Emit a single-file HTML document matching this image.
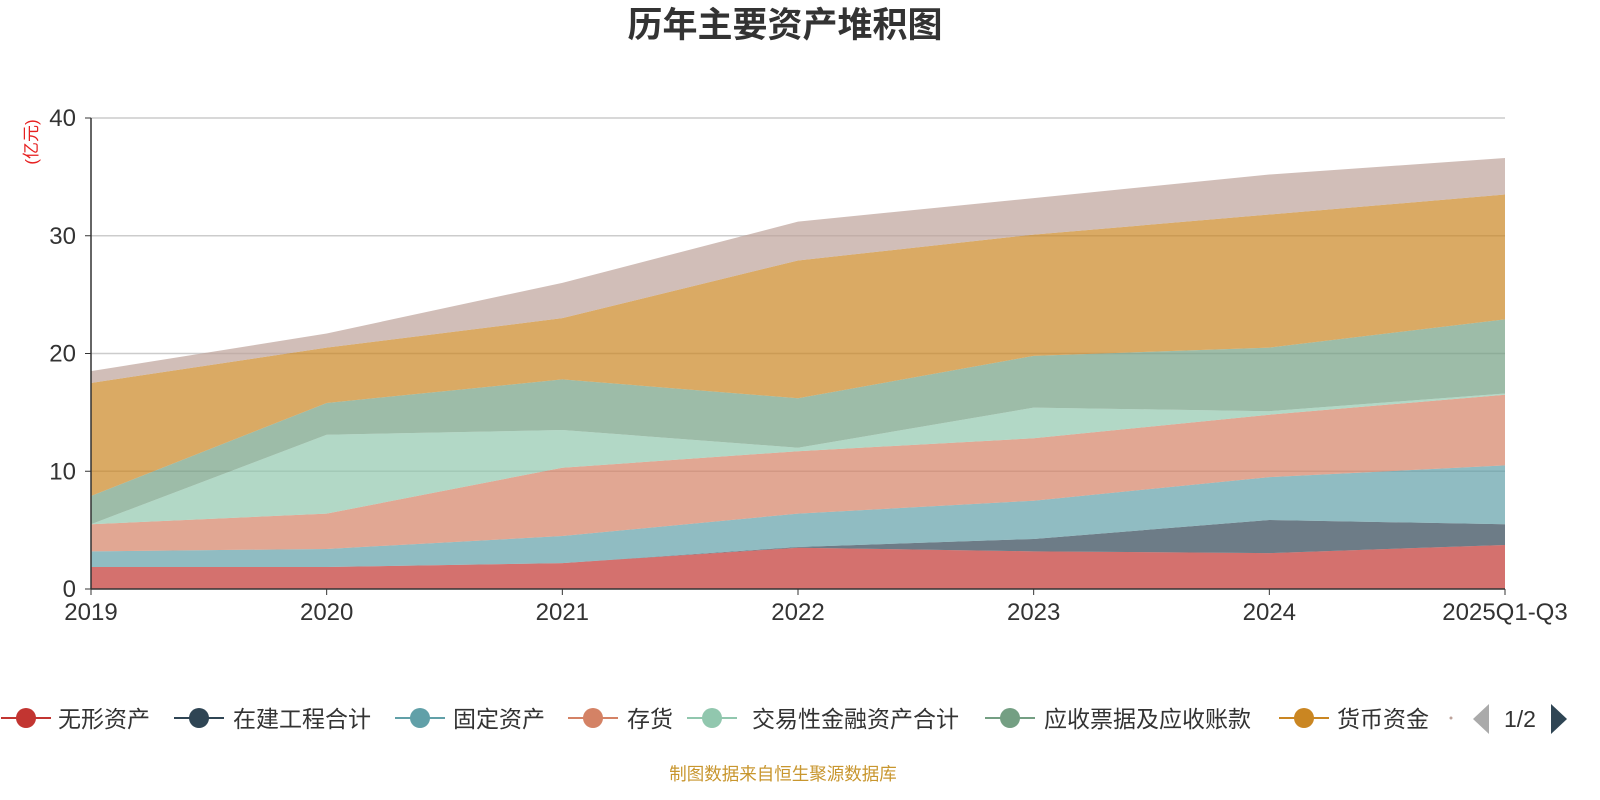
<!DOCTYPE html>
<html><head><meta charset="utf-8"><style>
body{margin:0;background:#fff;width:1600px;height:800px;overflow:hidden;font-family:"Liberation Sans","Noto Sans CJK SC",sans-serif;}
svg{display:block}
</style></head><body>
<svg id="chart" width="1600" height="800">
<text x="785" y="37" text-anchor="middle" font-size="35" font-weight="bold" fill="#333">历年主要资产堆积图</text>
<text transform="translate(37,142) rotate(-90)" text-anchor="middle" font-size="17" fill="#e62020">(亿元)</text>
<g id="grid"></g><g id="areas"></g><g id="axes"></g><g id="legend"></g>
<text x="783" y="780" text-anchor="middle" font-size="17.5" fill="#c8962e">制图数据来自恒生聚源数据库</text>
</svg>
<script>
const categories=["2019","2020","2021","2022","2023","2024","2025Q1-Q3"];
const yTicks=[0,10,20,30,40];
const seriesNames=["无形资产","在建工程合计","固定资产","存货","交易性金融资产合计","应收票据及应收账款","货币资金","其他"];
const wuxing=[1.87,1.87,2.2,3.5,3.2,3.05,3.74];
const zaijian=[0,0,0,0.07,1.05,2.81,1.76];
const guding=[1.33,1.53,2.3,2.83,3.25,3.64,5.0];
const cunhuo=[2.3,3.0,5.8,5.3,5.3,5.3,6.0];
const jiaoyi=[0,6.7,3.2,0.3,2.6,0.3,0.1];
const yingshou=[2.4,2.7,4.3,4.2,4.4,5.4,6.3];
const huobi=[9.6,4.7,5.2,11.7,10.3,11.3,10.6];
const qita=[1.0,1.2,3.0,3.3,3.1,3.4,3.1];
const seriesData=[wuxing,zaijian,guding,cunhuo,jiaoyi,yingshou,huobi,qita];
const colors=["#c23531","#2f4554","#61a0a8","#d48265","#91c7ae","#749f83","#ca8622","#bda29a"];
const NS="http://www.w3.org/2000/svg";
const x0=91,x1=1505,yb=589,yt=118;
const xs=i=>x0+(x1-x0)*i/(categories.length-1);
const ys=v=>yb-(yb-yt)*v/40;
function mk(t,a,p){const e=document.createElementNS(NS,t);for(const k in a)e.setAttribute(k,a[k]);p.appendChild(e);return e;}
const grid=document.getElementById('grid'),axes=document.getElementById('axes'),areas=document.getElementById('areas'),legend=document.getElementById('legend');
yTicks.forEach(t=>{
 if(t>0){const l=mk('line',{x1:x0,x2:x1,y1:ys(t),y2:ys(t),stroke:'#ccc','stroke-width':1.5},grid);
 
 }
 const tk=mk('line',{x1:x0-6,x2:x0,y1:ys(t),y2:ys(t),stroke:'#333'},axes);
 
 
 const tx=mk('text',{x:x0-15,y:ys(t)+8,'text-anchor':'end','font-size':24,fill:'#333'},axes);tx.textContent=t;
 
 
});
let base=categories.map(()=>0);
seriesData.forEach((d,si)=>{
 const top=base.map((b,i)=>b+d[i]);
 let p='M'+top.map((v,i)=>xs(i)+','+ys(v)).join('L');
 for(let i=categories.length-1;i>=0;i--)p+='L'+xs(i)+','+ys(base[i]);
 p+='Z';
 const a=mk('path',{d:p,fill:colors[si],'fill-opacity':0.7,stroke:'none'},areas);
 
 
 base=top;
});
const ax=mk('line',{x1:x0,x2:x0,y1:yt,y2:yb,stroke:'#333','stroke-width':1.5},axes);


const bx=mk('line',{x1:x0,x2:x1,y1:yb,y2:yb,stroke:'#333','stroke-width':1.5},axes);


categories.forEach((c,i)=>{
 const tk=mk('line',{x1:xs(i),x2:xs(i),y1:yb,y2:yb+6,stroke:'#333'},axes);
 
 
 const t=mk('text',{x:xs(i),y:620,'text-anchor':'middle','font-size':24,fill:'#333'},axes);t.textContent=c;
 
 
});
const lx=[26,199,420,593,712,1010,1304],tx=[58,233,453,627,752,1044,1337];
for(let i=0;i<7;i++){
 const g=mk('g',{},legend);
 
 
 mk('line',{x1:lx[i]-25,x2:lx[i]+25,y1:718,y2:718,stroke:colors[i],'stroke-width':2},g);
 mk('circle',{cx:lx[i],cy:718,r:10,fill:colors[i]},g);
 const t=mk('text',{x:tx[i],y:727,'font-size':23,fill:'#333'},g);t.textContent=seriesNames[i];
}
const dot=mk('circle',{cx:1451,cy:718,r:1.5,fill:'#bda29a'},legend);


const pl=mk('path',{d:'M1489,704L1489,734L1473,719Z',fill:'#aaa'},legend);


const pg=mk('text',{x:1520,y:727,'text-anchor':'middle','font-size':23,fill:'#333'},legend);pg.textContent='1/2';


const pr=mk('path',{d:'M1551,704L1551,734L1567,719Z',fill:'#2f4554'},legend);


</script>
</body></html>
